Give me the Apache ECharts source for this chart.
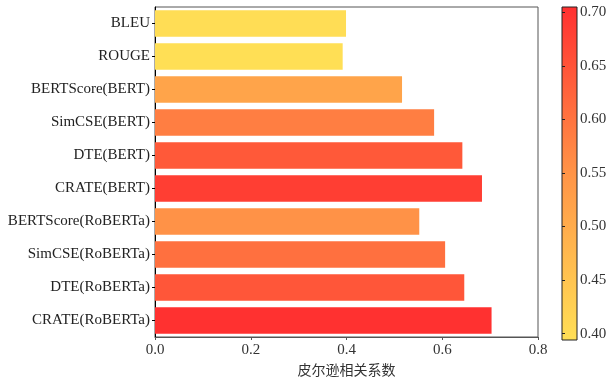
<!DOCTYPE html>
<html>
<head>
<meta charset="utf-8">
<style>
  html, body { margin: 0; padding: 0; background: #fff; }
  #chart { width: 610px; height: 382px; }
</style>
<script src="https://cdn.jsdelivr.net/npm/echarts@6/dist/echarts.min.js"></script>
</head>
<body>
<div id="chart"></div>
<script>
// 指标名称（自上而下）
const categories = [
  'BLEU', 'ROUGE', 'BERTScore(BERT)', 'SimCSE(BERT)', 'DTE(BERT)', 'CRATE(BERT)',
  'BERTScore(RoBERTa)', 'SimCSE(RoBERTa)', 'DTE(RoBERTa)', 'CRATE(RoBERTa)'
];
// 皮尔逊相关系数
const values = [0.399, 0.392, 0.516, 0.583, 0.642, 0.683, 0.552, 0.606, 0.646, 0.703];
const xTicks = [0, 0.2, 0.4, 0.6, 0.8];
const barTicks = [0.40, 0.45, 0.50, 0.55, 0.60, 0.65, 0.70];

const colorMin = 0.394;
const colorMax = 0.705;
const rampColors = ['#FFDF55', '#FF9447', '#FF3030'];

const serif = '"Liberation Serif", "Noto Sans CJK SC", serif';
const cjk = '"Noto Sans CJK SC", sans-serif';

const chart = echarts.init(document.getElementById('chart'));

chart.setOption({
  animation: false,
  grid: [
    { left: 155, top: 7, width: 383, height: 333, show: true, borderColor: '#555', borderWidth: 1 },
    {
      left: 562, top: 7, width: 15, height: 333, show: true, borderColor: '#222', borderWidth: 1,
      backgroundColor: {
        type: 'linear', x: 0, y: 0, x2: 0, y2: 1,
        colorStops: [
          { offset: 0, color: rampColors[2] },
          { offset: 0.5, color: rampColors[1] },
          { offset: 1, color: rampColors[0] }
        ]
      }
    }
  ],
  xAxis: [
    {
      gridIndex: 0, type: 'value', min: 0, max: 0.8, interval: 0.2,
      name: '皮尔逊相关系数', nameLocation: 'middle', nameGap: 26,
      nameTextStyle: { fontFamily: cjk, fontSize: 14, color: '#333' },
      axisLine: { show: true, lineStyle: { color: '#555' } },
      axisTick: { show: true, length: 3, lineStyle: { color: '#555' } },
      axisLabel: {
        fontFamily: serif, fontSize: 15, color: '#333', margin: 6,
        formatter: v => xTicks.includes(+v.toFixed(1)) ? v.toFixed(1) : ''
      },
      splitLine: { show: false }
    },
    { gridIndex: 1, type: 'value', show: false, min: 0, max: 1 }
  ],
  yAxis: [
    {
      gridIndex: 0, type: 'category', data: categories, inverse: true,
      axisLine: { show: true, lineStyle: { color: '#000' } },
      axisTick: { show: true, length: 3, alignWithLabel: true, lineStyle: { color: '#000' } },
      axisLabel: { fontFamily: serif, fontSize: 15, color: '#222', margin: 5 }
    },
    {
      gridIndex: 1, type: 'value', position: 'right', min: colorMin, max: colorMax,
      axisLine: { show: false },
      axisTick: { show: true, length: 3, customValues: barTicks, lineStyle: { color: '#222' } },
      axisLabel: {
        fontFamily: serif, fontSize: 15, color: '#333', margin: 3,
        customValues: barTicks, formatter: v => v.toFixed(2)
      },
      splitLine: { show: false }
    }
  ],
  visualMap: {
    show: false, type: 'continuous', seriesIndex: 0, dimension: 0,
    min: colorMin, max: colorMax,
    inRange: { color: rampColors }
  },
  series: [
    {
      type: 'bar', xAxisIndex: 0, yAxisIndex: 0,
      data: values, barWidth: '80%'
    }
  ]
});
</script>
</body>
</html>
